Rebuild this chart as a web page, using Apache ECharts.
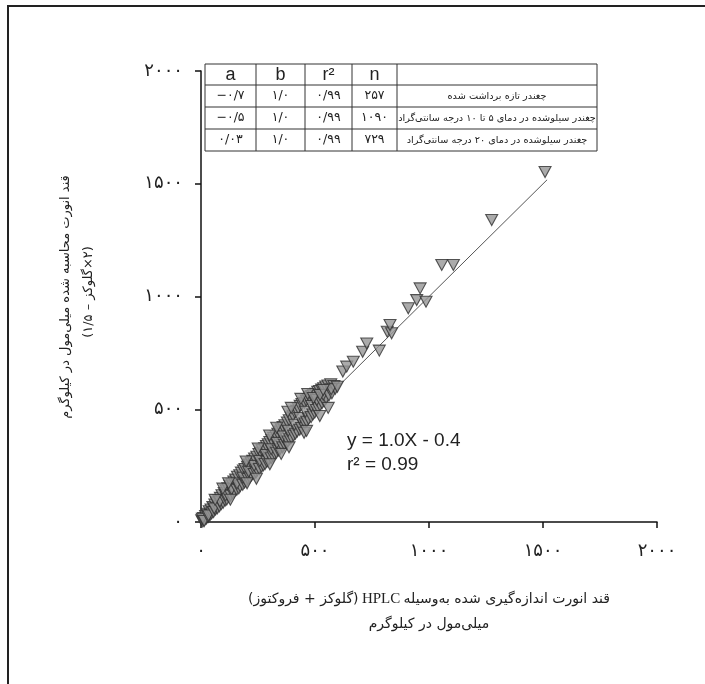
<!DOCTYPE html>
<html>
<head>
<meta charset="utf-8">
<script src="https://cdn.jsdelivr.net/npm/echarts@6/dist/echarts.min.js"></script>
<style>
  html, body { margin: 0; padding: 0; background: #ffffff; }
  #chart { width: 705px; height: 684px; }
</style>
</head>
<body>
<div id="chart"></div>
<script>
// Invert sugar: HPLC measurement (x) vs. value calculated from glucose (y), mmol/kg
const denseSamples = [
  [3,8],[8,2],[11,18],[16,10],[20,27],[24,15],[6,14],[14,4],
  [28,37],[31,22],[36,48],[40,31],[44,55],[47,38],[33,29],
  [52,66],[55,44],[61,77],[64,55],[67,87],[72,61],[58,60],
  [77,96],[81,70],[85,107],[89,79],[92,119],[97,85],[83,91],
  [102,129],[106,95],[110,141],[113,100],[118,149],[123,111],[108,118],
  [127,161],[130,117],[136,168],[139,127],[144,179],[146,134],[134,145],
  [152,188],[157,143],[160,201],[166,149],[170,207],[172,159],[158,171],
  [177,219],[183,165],[186,228],[191,175],[193,235],[199,181],[184,196],
  [204,245],[206,191],[212,255],[214,197],[220,263],[222,207],[209,223],
  [227,271],[233,213],[235,282],[241,219],[245,289],[247,229],[233,249],
  [254,301],[256,235],[262,307],[266,245],[268,319],[274,251],[258,271],
  [279,327],[281,257],[287,337],[289,267],[295,345],[297,276],[285,297],
  [302,355],[308,283],[310,363],[316,291],[318,373],[324,301],[308,323],
  [329,381],[331,307],[337,391],[339,317],[345,401],[347,323],[333,351],
  [352,411],[358,331],[360,421],[366,343],[368,429],[374,349],[358,379],
  [379,441],[381,357],[387,451],[389,367],[395,463],[397,373],[383,405],
  [404,471],[406,383],[412,485],[414,391],[420,493],[422,401],[410,431],
  [427,503],[433,409],[435,515],[441,417],[443,523],[449,429],[433,461],
  [454,529],[456,437],[462,539],[464,445],[470,544],[472,457],[458,489],
  [477,553],[483,465],[485,559],[491,477],[493,563],[499,485],[485,514],
  [504,569],[506,497],[512,577],[514,505],[520,581],[522,517],[508,541],
  [529,587],[531,527],[538,593],[540,535],[547,601],[549,549],[536,564],
  [557,605],[561,561],[569,611],[574,571],[583,603],[589,591],[571,589],
  // scattered readings at the edges of the band
  [62,98],[96,148],[121,172],[198,268],[251,326],[301,384],[332,418],[381,489],[396,506],[438,546],[468,568],
  [129,99],[202,172],[243,192],[302,256],[352,302],[386,331],[452,396],[463,404],[521,470],[558,506]
];
const upperSamples = [
  [493,550],[522,563],[536,585],[598,600],[622,667],[639,689],[668,711],[709,755],[727,792],[782,760],
  [817,844],[836,837],[829,874],[909,948],[946,984],[987,977],[961,1036],[1056,1140],[1107,1140],
  [1275,1339],[1509,1552]
];

// Fitted line y = slope * X + intercept
const slope = 1.0;
const intercept = -0.4;
const r2 = 0.99;
const fitEnd = 1518;

const tickLabels = ['۰', '۵۰۰', '۱۰۰۰', '۱۵۰۰', '۲۰۰۰'];

// Regression summary table
const tableHeader = ['a', 'b', 'r²', 'n', ''];
const colA = ['−۰/۷', '−۰/۵', '۰/۰۳'];
const colB = ['۱/۰', '۱/۰', '۱/۰'];
const colR2 = ['۰/۹۹', '۰/۹۹', '۰/۹۹'];
const colN = ['۲۵۷', '۱۰۹۰', '۷۲۹'];
const groupNames = [
  'چغندر تازه برداشت شده',
  'چغندر سیلوشده در دمای ۵ تا ۱۰ درجه سانتی‌گراد',
  'چغندر سیلوشده در دمای ۲۰ درجه سانتی‌گراد'
];

const xTitleRight = 'قند انورت اندازه‌گیری شده به‌وسیله';
const xTitleParen = '(گلوکز + فروکتوز)';
const xTitleInstr = 'HPLC';
const xTitleUnit = 'میلی‌مول در کیلوگرم';
const yTitle1 = 'قند انورت محاسبه شده میلی‌مول در کیلوگرم';
const yTitle2 = '(۲×گلوکز – ۱/۵)';

// right-to-left embedding for Persian strings drawn on canvas
const rtl = s => '\u202B' + s + '\u202C';

const persianFont = '"DejaVu Sans", sans-serif';
const latinFont = '"Liberation Sans", Arial, sans-serif';
const ink = '#222';

// table geometry
const colX = [205, 256, 305, 352, 397, 597];
const rowY = [64, 85, 107, 129, 151];

function buildTable() {
  const els = [];
  els.push({ type: 'rect', shape: { x: colX[0], y: rowY[0], width: colX[5] - colX[0], height: rowY[4] - rowY[0] },
    style: { fill: '#fff', stroke: '#333', lineWidth: 1 } });
  for (let i = 1; i < colX.length - 1; i++) {
    els.push({ type: 'line', shape: { x1: colX[i], y1: rowY[0], x2: colX[i], y2: rowY[4] }, style: { stroke: '#333', lineWidth: 1 } });
  }
  for (let j = 1; j < rowY.length - 1; j++) {
    els.push({ type: 'line', shape: { x1: colX[0], y1: rowY[j], x2: colX[5], y2: rowY[j] }, style: { stroke: '#333', lineWidth: 1 } });
  }
  const cx = i => (colX[i] + colX[i + 1]) / 2;
  const cy = j => (rowY[j] + rowY[j + 1]) / 2;
  tableHeader.forEach((h, i) => {
    if (!h) return;
    els.push({ type: 'text', x: cx(i), y: cy(0) + 1, style: { text: h, font: '18px ' + latinFont, fill: ink, align: 'center', verticalAlign: 'middle' } });
  });
  const cols = [colA, colB, colR2, colN];
  for (let r = 0; r < 3; r++) {
    cols.forEach((col, i) => {
      els.push({ type: 'text', x: cx(i), y: cy(r + 1), style: { text: col[r], font: '12.5px ' + persianFont, fill: ink, align: 'center', verticalAlign: 'middle' } });
    });
    els.push({ type: 'text', x: cx(4), y: cy(r + 1), style: { text: rtl(groupNames[r]), font: '9.7px ' + persianFont, fill: ink, align: 'center', verticalAlign: 'middle' } });
  }
  return els;
}

const chart = echarts.init(document.getElementById('chart'), null, { renderer: 'canvas' });

const axisCommon = {
  type: 'value', min: 0, max: 2000, interval: 500,
  axisLine: { show: true, lineStyle: { color: '#111', width: 1.5 } },
  axisTick: { show: true, inside: false, length: 6, lineStyle: { color: '#111', width: 1.5 } },
  splitLine: { show: false },
  axisLabel: { formatter: v => tickLabels[Math.round(v / 500)], fontFamily: persianFont, fontSize: 18, color: ink }
};

chart.setOption({
  backgroundColor: '#ffffff',
  animation: false,
  grid: { left: 201, top: 71, width: 456, height: 451 },
  xAxis: Object.assign({}, axisCommon, { axisLabel: Object.assign({}, axisCommon.axisLabel, { margin: 20 }) }),
  yAxis: Object.assign({}, axisCommon, { axisLabel: Object.assign({}, axisCommon.axisLabel, { margin: 18 }) }),
  series: [
    {
      type: 'line',
      data: [[0, intercept], [fitEnd, slope * fitEnd + intercept]],
      symbol: 'none',
      lineStyle: { color: '#555', width: 1 },
      z: 2
    },
    {
      type: 'scatter',
      data: denseSamples.concat(upperSamples),
      symbol: 'triangle',
      symbolRotate: 180,
      symbolSize: [12, 11],
      itemStyle: { color: '#969696', borderColor: '#303030', borderWidth: 1.1 },
      z: 3
    }
  ],
  graphic: [
    { type: 'polyline', shape: { points: [[8, 700], [8, 6], [720, 6]] }, style: { stroke: '#222', lineWidth: 2, fill: null } },
    { type: 'group', children: buildTable() },
    { type: 'text', x: 347, y: 441, style: { text: 'y = ' + slope.toFixed(1) + 'X - ' + Math.abs(intercept), font: '19px ' + latinFont, fill: ink, verticalAlign: 'middle' } },
    { type: 'text', x: 347, y: 465, style: { text: 'r² = ' + r2.toFixed(2), font: '19px ' + latinFont, fill: ink, verticalAlign: 'middle' } },
    {
      type: 'text', x: 429, y: 599,
      style: {
        text: '{p|' + rtl(xTitleParen) + '} {s|' + xTitleInstr + '} {p|' + rtl(xTitleRight) + '}',
        align: 'center', verticalAlign: 'middle', fill: ink,
        rich: {
          p: { font: '14px ' + persianFont, fill: ink },
          s: { font: '15px "Liberation Serif", serif', fill: ink }
        }
      }
    },
    { type: 'text', x: 429, y: 624, style: { text: rtl(xTitleUnit), font: '14px ' + persianFont, fill: ink, align: 'center', verticalAlign: 'middle' } },
    { type: 'text', x: 66, y: 297, rotation: Math.PI / 2, style: { text: rtl(yTitle1), font: '13px ' + persianFont, fill: ink, align: 'center', verticalAlign: 'middle' } },
    { type: 'text', x: 89, y: 292, rotation: Math.PI / 2, style: { text: rtl(yTitle2), font: '13px ' + persianFont, fill: ink, align: 'center', verticalAlign: 'middle' } }
  ]
});
</script>
</body>
</html>
